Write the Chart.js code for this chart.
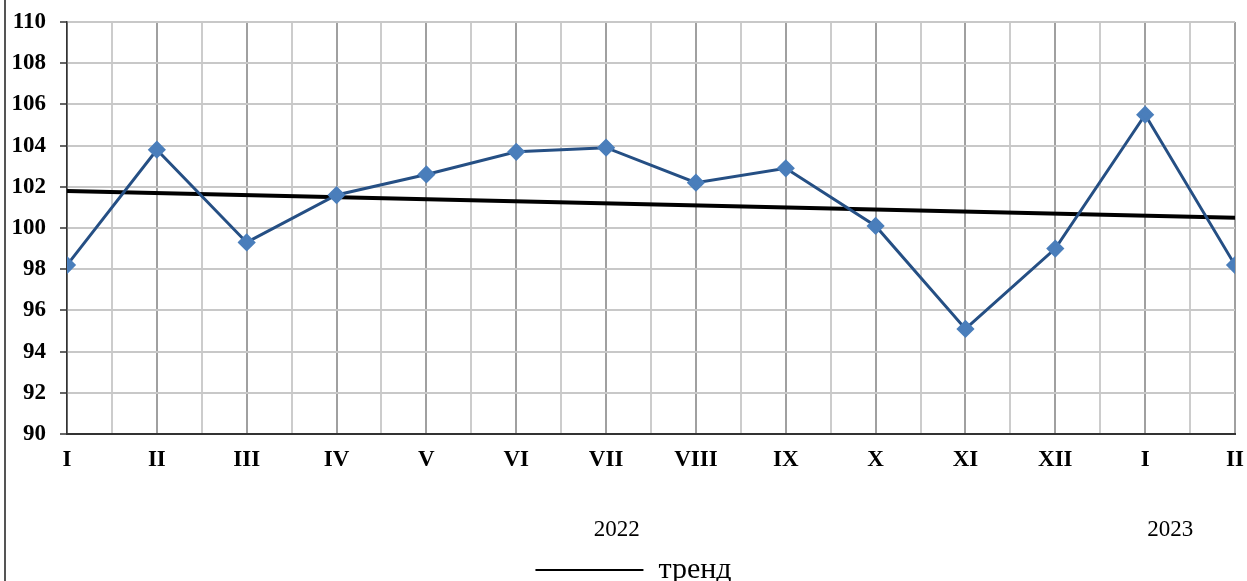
<!DOCTYPE html>
<html lang="ru">
<head>
<meta charset="UTF-8">
<title>Chart</title>
<script src="https://cdn.jsdelivr.net/npm/chart.js@4"></script>
<style>
  html, body { margin: 0; padding: 0; background: #fff; }
  #wrap { width: 1247px; height: 581px; }
</style>
</head>
<body>
<div id="wrap"><canvas id="myChart"></canvas></div>
<script>
  // months on the axis, Jan 2022 .. Feb 2023
  const months = ['I', 'II', 'III', 'IV', 'V', 'VI', 'VII', 'VIII', 'IX', 'X', 'XI', 'XII', 'I', 'II'];
  const values = [98.2, 103.8, 99.3, 101.6, 102.6, 103.7, 103.9, 102.2, 102.9, 100.1, 95.1, 99.0, 105.5, 98.2];
  const trendStart = 101.8;
  const trendEnd = 100.5;
  const years = ['2022', '2023'];
  const yearPos = [6.12, 12.28];

  const serif = "'Liberation Serif', 'Times New Roman', serif";

  const extras = {
    id: 'extras',
    afterLayout(chart) {
      // legend sits a bit right of centre in the original
      chart.legend.left += 16;
      chart.legend.right += 16;
    },
    afterDraw(chart) {
      const c = chart.ctx;
      const x = chart.scales.x;
      c.save();
      // left frame line
      c.strokeStyle = '#555';
      c.lineWidth = 2;
      c.beginPath();
      c.moveTo(5, 0);
      c.lineTo(5, 581);
      c.stroke();
      // year labels under the axis
      c.fillStyle = '#000';
      c.font = '23px ' + serif;
      c.textAlign = 'center';
      c.textBaseline = 'middle';
      years.forEach((y, i) => c.fillText(y, x.getPixelForValue(yearPos[i]), 530));
      c.restore();
    }
  };

  const ctx = document.getElementById('myChart').getContext('2d');
  const chart = new Chart(ctx, {
    type: 'line',
    data: {
      datasets: [{
        label: 'индекс',
        data: values.map((v, i) => ({ x: i, y: v })),
        borderColor: '#254f84',
        borderWidth: 3,
        pointStyle: 'rectRot',
        pointRadius: 7,
        pointHoverRadius: 7,
        pointBackgroundColor: '#4a7ebb',
        pointBorderColor: '#4a7ebb',
        tension: 0,
        order: 1
      }, {
        label: 'тренд',
        data: [{ x: 0, y: trendStart }, { x: months.length - 1, y: trendEnd }],
        borderColor: '#000',
        backgroundColor: '#000',
        borderWidth: 4,
        pointRadius: 0,
        order: 2
      }]
    },
    options: {
      responsive: true,
      maintainAspectRatio: false,
      animation: false,
      layout: { padding: { top: 22, right: 12, left: 0, bottom: -14 } },
      plugins: {
        tooltip: { enabled: false },
        legend: {
          position: 'bottom',
          labels: {
            color: '#000',
            font: { family: serif, size: 30 },
            boxWidth: 108,
            boxHeight: 2,
            padding: 0,
            filter: (item) => item.text === 'тренд',
            generateLabels: (ch) => Chart.defaults.plugins.legend.labels.generateLabels(ch)
              .map(l => Object.assign(l, { lineWidth: 0, fillStyle: '#000' }))
          }
        }
      },
      scales: {
        x: {
          type: 'linear',
          min: 0,
          max: months.length - 1,
          afterFit: (s) => { s.height = 121; s.paddingRight = 0; s.paddingLeft = 0; },
          ticks: {
            stepSize: 0.5,
            autoSkip: false,
            maxRotation: 0,
            padding: 12,
            color: '#000',
            font: { family: serif, size: 23, weight: 'bold' },
            callback: (v) => Number.isInteger(v) ? months[v] : ''
          },
          grid: {
            drawTicks: false,
            lineWidth: 2,
            color: (c) => Number.isInteger(c.tick.value) ? '#a0a0a0' : '#cccccc'
          },
          border: { color: '#333', width: 2 }
        },
        y: {
          min: 90,
          max: 110,
          afterFit: (s) => { s.width = 67; s.paddingTop = 0; s.paddingBottom = 0; },
          ticks: {
            stepSize: 2,
            padding: 14,
            color: '#000',
            font: { family: serif, size: 23, weight: 'bold' }
          },
          grid: {
            lineWidth: 2,
            color: '#c8c8c8',
            tickLength: 7,
            tickColor: '#333',
            tickWidth: 1.5
          },
          border: { color: '#333', width: 1.5 }
        }
      }
    },
    plugins: [extras]
  });
</script>
</body>
</html>
